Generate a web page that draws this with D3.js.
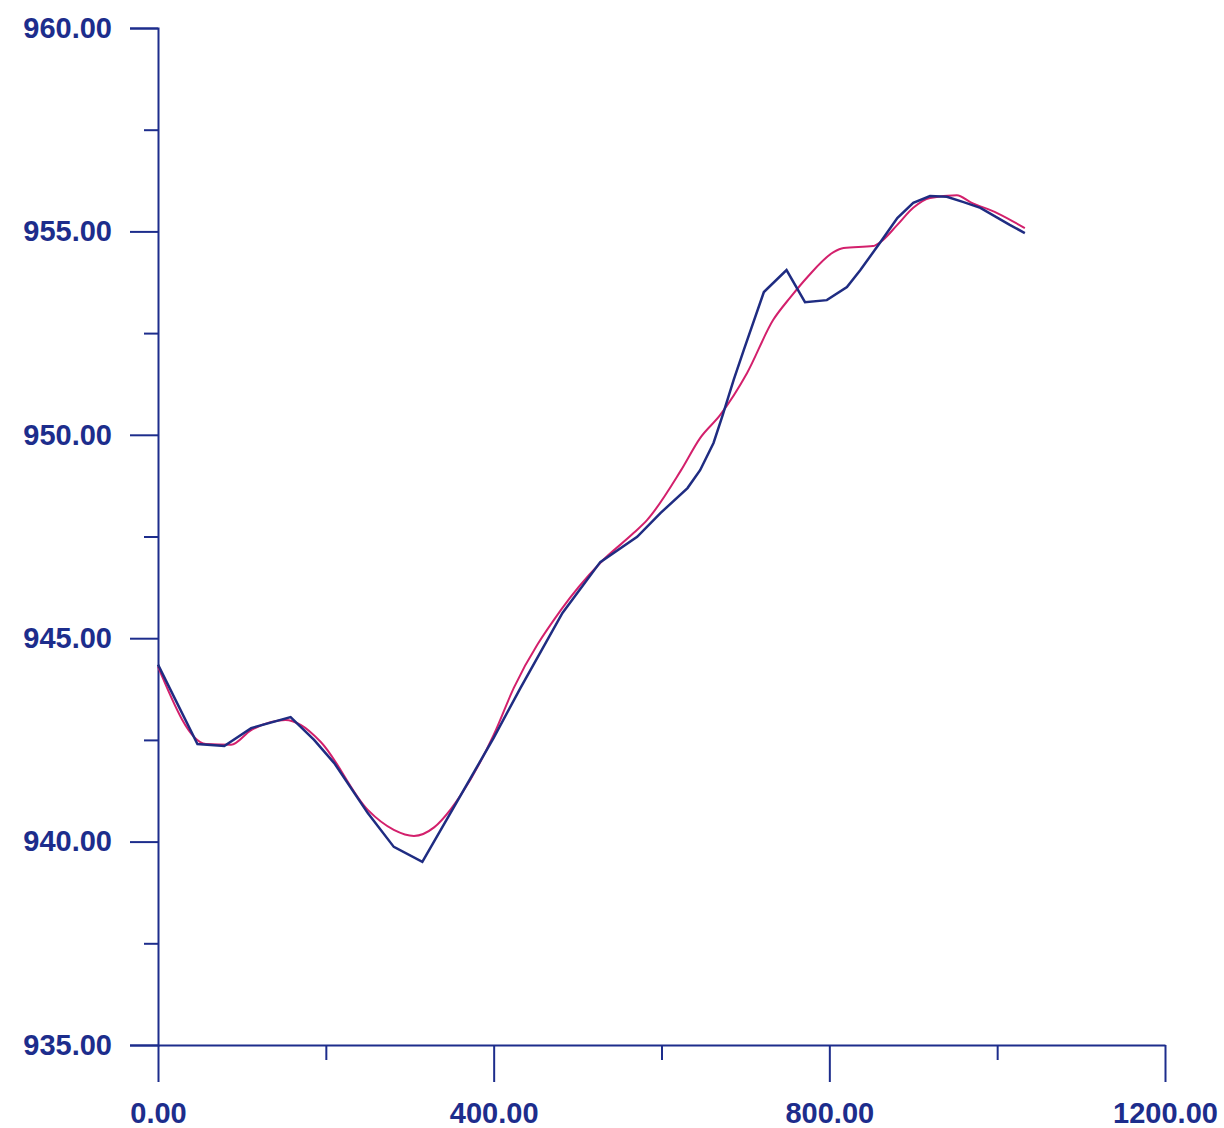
<!DOCTYPE html>
<html lang="en">
<head>
<meta charset="UTF-8">
<title>Profile</title>
<script src="https://cdn.jsdelivr.net/npm/d3@7"></script>
<style>
body { margin: 0; background: #fff; }
.axis text { font-family: "Liberation Sans", Arial, sans-serif; font-weight: bold; font-size: 29px; fill: #1d2d8c; }
.axis path, .axis line { stroke: #1d2d8c; stroke-width: 2px; }
</style>
</head>
<body>
<script>
// measured line (blue)
var blueX = [0, 47, 79, 111, 158, 186, 210, 250, 281, 315, 361, 400, 432, 482, 527, 571, 599, 631, 646, 662, 673, 686, 698, 722, 749, 771, 797, 821, 837, 861, 881, 900, 920, 940, 960, 980, 1015, 1033];
var blueY = [944.35, 942.40, 942.35, 942.79, 943.06, 942.50, 941.93, 940.70, 939.87, 939.50, 941.15, 942.55, 943.78, 945.62, 946.87, 947.49, 948.08, 948.69, 949.13, 949.80, 950.49, 951.35, 952.08, 953.51, 954.05, 953.26, 953.31, 953.63, 954.05, 954.74, 955.33, 955.70, 955.87, 955.85, 955.72, 955.58, 955.16, 954.96];

// fitted line (pink)
var pinkX = [0, 57, 87, 111, 135, 152, 170, 194, 250, 281, 305, 329, 349, 361, 400, 424, 480, 527, 567, 583, 623, 646, 670, 702, 733, 754, 774, 805, 817, 852, 861, 881, 900, 920, 952, 968, 1000, 1033];
var pinkY = [944.30, 942.40, 942.38, 942.74, 942.94, 942.99, 942.87, 942.45, 940.78, 940.29, 940.14, 940.35, 940.80, 941.15, 942.62, 943.78, 945.69, 946.85, 947.59, 947.91, 949.12, 949.92, 950.49, 951.52, 952.82, 953.39, 953.88, 954.49, 954.59, 954.64, 954.74, 955.16, 955.58, 955.82, 955.89, 955.72, 955.45, 955.08];

var xMajor = [0, 400, 800, 1200];
var xMinor = [200, 600, 1000];
var yMajor = [935, 940, 945, 950, 955, 960];
var yMinor = [937.5, 942.5, 947.5, 952.5, 957.5];

var W = 1224, H = 1128;
var svg = d3.select("body").append("svg")
    .attr("width", W)
    .attr("height", H);

var x = d3.scaleLinear().domain([0, 1200]).range([158, 1165]);
var y = d3.scaleLinear().domain([935, 960]).range([1045, 28]);

var fmt = d3.format(".2f");

// y axis
svg.append("g")
    .attr("class", "axis")
    .attr("transform", "translate(" + x(0) + ",0)")
    .call(d3.axisLeft(y).tickValues(yMajor).tickSize(28).tickPadding(18).tickFormat(fmt));

svg.append("g")
    .attr("class", "axis")
    .attr("transform", "translate(" + x(0) + ",0)")
    .call(d3.axisLeft(y).tickValues(yMinor).tickSize(14).tickSizeOuter(0).tickFormat(""))
    .select(".domain").remove();

// x axis
svg.append("g")
    .attr("class", "axis")
    .attr("transform", "translate(0," + y(935) + ")")
    .call(d3.axisBottom(x).tickValues(xMajor).tickSize(37).tickSizeOuter(0).tickPadding(20).tickFormat(fmt));

svg.append("g")
    .attr("class", "axis")
    .attr("transform", "translate(0," + y(935) + ")")
    .call(d3.axisBottom(x).tickValues(xMinor).tickSize(15).tickSizeOuter(0).tickFormat(""))
    .select(".domain").remove();

var blue = blueX.map(function(d, i) { return [d, blueY[i]]; });
var pink = pinkX.map(function(d, i) { return [d, pinkY[i]]; });

var line = d3.line()
    .x(function(d) { return x(d[0]); })
    .y(function(d) { return y(d[1]); });

svg.append("path")
    .datum(pink)
    .attr("fill", "none")
    .attr("stroke", "#d3206c")
    .attr("stroke-width", 2)
    .attr("d", line.curve(d3.curveMonotoneX));

svg.append("path")
    .datum(blue)
    .attr("fill", "none")
    .attr("stroke", "#1f2c82")
    .attr("stroke-width", 2.5)
    .attr("d", line.curve(d3.curveLinear));
</script>
</body>
</html>
